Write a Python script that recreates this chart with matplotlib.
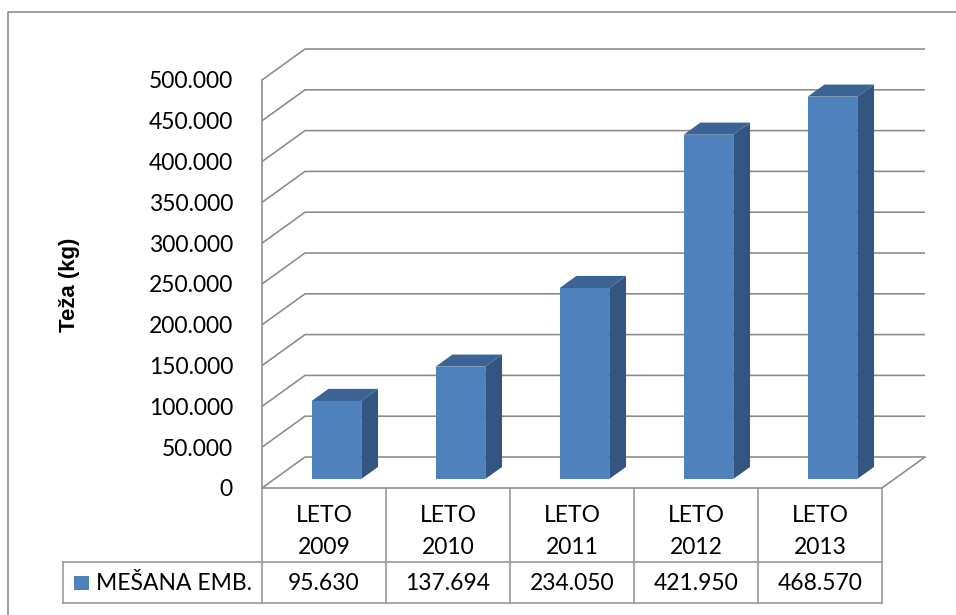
import matplotlib
matplotlib.use('Agg')
import matplotlib.pyplot as plt
from matplotlib.patches import Polygon, Rectangle
from matplotlib.lines import Line2D
import matplotlib.transforms as mtransforms

# ---- data ----
categories = ['LETO 2009', 'LETO 2010', 'LETO 2011', 'LETO 2012', 'LETO 2013']
values = [95630, 137694, 234050, 421950, 468570]
value_labels = ['95.630', '137.694', '234.050', '421.950', '468.570']
series_name = 'MEŠANA EMB.'
yticks = [0, 50000, 100000, 150000, 200000, 250000, 300000, 350000, 400000, 450000, 500000]
ytick_labels = ['0', '50.000', '100.000', '150.000', '200.000', '250.000',
                '300.000', '350.000', '400.000', '450.000', '500.000']
y_label = 'Teža (kg)'

# ---- style ----
FONT = 'Lato'
FS = 16.5
GRID = '#8A8A8A'
TBL = '#969696'
FRONT_C = '#4F81BD'
SIDE_C = '#325680'
TOP_C = '#3B6394'

W, H = 956, 615
fig = plt.figure(figsize=(W / 100, H / 100), dpi=100)
pxT = mtransforms.Affine2D().scale(1.0 / W, -1.0 / H).translate(0, 1) + fig.transFigure

FRONT_L, FRONT_R, BACK_R = 262, 882, 925
Y0, Y500, YTOP_BACK = 488, 80, 49
n = len(categories)
px_per_cat = (FRONT_R - FRONT_L) / n
DX = (BACK_R - FRONT_R) / px_per_cat
ymax_tick = yticks[-1]
px_per_val = (Y0 - Y500) / ymax_tick
DY = (Y0 - 457) / px_per_val

ax = fig.add_axes([FRONT_L / W, 1 - Y0 / H, (BACK_R - FRONT_L) / W, (Y0 - YTOP_BACK) / H])
ax.set_xlim(0, n + DX)
ax.set_ylim(0, ymax_tick + DY)
for s in ax.spines.values():
    s.set_visible(False)
ax.set_xticks([])
ax.set_yticks(yticks)
ax.set_yticklabels(ytick_labels, fontfamily=FONT, fontsize=FS)
ax.tick_params(axis='y', length=0, pad=29 * 72 / 100)
ax.patch.set_alpha(0)

lw = 1.6 * 72 / 100
# gridlines (diagonal on side wall + horizontal on back wall)
for v in yticks:
    ax.plot([0, DX, n + DX], [v, v + DY, v + DY], color=GRID, lw=lw,
            solid_capstyle='butt', clip_on=False, zorder=1)
# front vertical axis
ax.plot([0, 0], [0, ymax_tick], color=GRID, lw=lw, clip_on=False, zorder=1)
# floor front edge and right diagonal
ax.plot([0, n], [0, 0], color=GRID, lw=lw, clip_on=False, zorder=1)
ax.plot([n, n + DX], [0, DY], color=GRID, lw=lw, clip_on=False, zorder=1)

# bars
f0, f1 = 0.29, 0.68
hw = 0.2
ddx = (f1 - f0) * DX
ddy = (f1 - f0) * DY
for i, v in enumerate(values):
    xl = i + 0.5 - hw + f0 * DX
    xr = i + 0.5 + hw + f0 * DX
    yb = f0 * DY
    yt = yb + v
    ax.add_patch(Polygon([(xr, yb), (xr + ddx, yb + ddy), (xr + ddx, yt + ddy), (xr, yt)],
                         closed=True, facecolor=SIDE_C, edgecolor='none', zorder=3))
    ax.add_patch(Polygon([(xl, yt), (xl + ddx, yt + ddy), (xr + ddx, yt + ddy), (xr, yt)],
                         closed=True, facecolor=TOP_C, edgecolor='none', zorder=3))
    ax.add_patch(Rectangle((xl, yb), xr - xl, v, facecolor=FRONT_C, edgecolor='none', zorder=4))

# y label
fig.text(69 / W, 1 - 285 / H, y_label, rotation=90, ha='center', va='center',
         fontfamily='Liberation Sans', fontweight='bold', fontsize=16)

# ---- data table ----
tT = mtransforms.blended_transform_factory(ax.transData, pxT)
ROW1, ROW2 = 562, 603
LEG_L = 63
for k in range(n + 1):
    fig.add_artist(Line2D([k, k], [Y0, ROW2], transform=tT, color=TBL, lw=lw))
fig.add_artist(Line2D([LEG_L, FRONT_R], [ROW1, ROW1], transform=pxT, color=TBL, lw=lw))
fig.add_artist(Line2D([LEG_L, FRONT_R], [ROW2, ROW2], transform=pxT, color=TBL, lw=lw))
fig.add_artist(Line2D([LEG_L, LEG_L], [ROW1, ROW2], transform=pxT, color=TBL, lw=lw))

for i, (c, vl) in enumerate(zip(categories, value_labels)):
    top, bottom = c.split(' ')
    fig.text(i + 0.5, 516, top, transform=tT, ha='center', va='center',
             fontfamily=FONT, fontsize=FS)
    fig.text(i + 0.5, 547, bottom, transform=tT, ha='center', va='center',
             fontfamily=FONT, fontsize=FS)
    fig.text(i + 0.5, 583, vl, transform=tT, ha='center', va='center',
             fontfamily=FONT, fontsize=FS)

fig.add_artist(Rectangle((74, 576), 15, 14, transform=pxT, facecolor=FRONT_C, edgecolor='none'))
fig.text(96, 583, series_name, transform=pxT, ha='left', va='center',
         fontfamily=FONT, fontsize=FS)

# outer frame (top and left edges visible)
fig.add_artist(Line2D([8, 8, W + 5], [H + 5, 12, 12], transform=pxT, color=GRID, lw=lw))

fig.savefig('out.png', dpi=100)
